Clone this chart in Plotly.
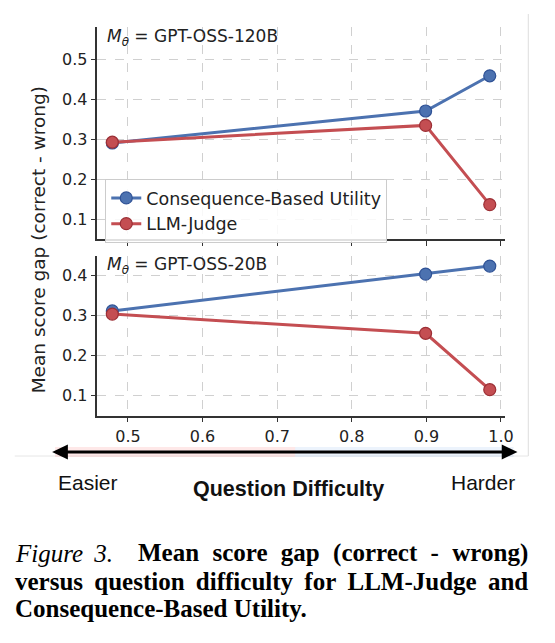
import plotly.graph_objects as go

W, H = 555, 643

# ---- data ----
difficulty = [0.479, 0.899, 0.985]
cbu_120b = [0.290, 0.370, 0.458]
judge_120b = [0.292, 0.334, 0.136]
cbu_20b = [0.312, 0.404, 0.424]
judge_20b = [0.304, 0.256, 0.115]
series_names = ["Consequence-Based Utility", "LLM-Judge"]
panel_labels = ["<i>M</i><sub><i>θ</i></sub> = GPT-OSS-120B", "<i>M</i><sub><i>θ</i></sub> = GPT-OSS-20B"]
x_ticks = [0.5, 0.6, 0.7, 0.8, 0.9, 1.0]
y_ticks_top = [0.1, 0.2, 0.3, 0.4, 0.5]
y_ticks_bot = [0.1, 0.2, 0.3, 0.4]

BLUE = "#4C72B0"
BLUE_EDGE = "#2f5296"
RED = "#C44E52"
RED_EDGE = "#9c2f35"
TICKF = dict(family="DejaVu Sans", size=16, color="#222")
TS = "&#8201;"  # thin space for justification
HS = "&#8202;"  # hair space

def px(x):
    return x / W

def py(y):
    return 1 - y / H

fig = go.Figure()

def add_series(y, name, color, edge, xa, ya, show):
    fig.add_trace(go.Scatter(
        x=difficulty, y=y, name=name, mode="lines+markers",
        line=dict(color=color, width=3),
        marker=dict(size=12, color=color, line=dict(color=edge, width=1.2)),
        xaxis=xa, yaxis=ya, showlegend=show))

add_series(cbu_120b, series_names[0], BLUE, BLUE_EDGE, "x", "y", True)
add_series(judge_120b, series_names[1], RED, RED_EDGE, "x", "y", True)
add_series(cbu_20b, series_names[0], BLUE, BLUE_EDGE, "x2", "y2", False)
add_series(judge_20b, series_names[1], RED, RED_EDGE, "x2", "y2", False)

xdom = [px(99), px(513)]
axis_common = dict(
    showline=True, linecolor="#333", linewidth=1.5,
    ticks="outside", ticklen=5, tickwidth=1.3, tickcolor="#333",
    showgrid=True, gridcolor="#d0d0d0", griddash="dash", gridwidth=1,
    zeroline=False, tickfont=TICKF,
)
fig.update_layout(
    width=W, height=H,
    margin=dict(l=0, r=0, t=0, b=0),
    paper_bgcolor="white", plot_bgcolor="white",
    showlegend=True,
    xaxis=dict(domain=xdom, range=[0.459, 1.005], tickvals=x_ticks,
               showticklabels=False, anchor="y", **axis_common),
    yaxis=dict(domain=[py(239), py(27)], range=[0.05, 0.58], tickvals=y_ticks_top,
               tickformat=".1f", anchor="x", **axis_common),
    xaxis2=dict(domain=xdom, range=[0.459, 1.005], tickvals=x_ticks,
                tickformat=".1f", anchor="y2", **axis_common),
    yaxis2=dict(domain=[py(415.7), py(255.7)], range=[0.05, 0.45], tickvals=y_ticks_bot,
                tickformat=".1f", anchor="x2", **axis_common),
    legend=dict(x=px(107), y=py(179), xanchor="left", yanchor="top",
                bgcolor="rgba(255,255,255,0.85)", bordercolor="#cccccc", borderwidth=1,
                font=dict(family="DejaVu Sans", size=17.5, color="#222"),
                tracegroupgap=2, itemwidth=30),
)

cap_font = dict(family="Liberation Serif", size=25, color="#000")
line1_main = (TS + HS + " ").join("Mean score gap (correct - wrong)".split(" "))
line2 = (TS + " ").join("versus question difficulty for LLM-Judge and".split(" "))

annotations = [
    dict(x=px(107), y=py(38), xref="paper", yref="paper", xanchor="left", yanchor="middle",
         text=panel_labels[0], showarrow=False, font=dict(family="DejaVu Sans", size=17, color="#222")),
    dict(x=px(107), y=py(266), xref="paper", yref="paper", xanchor="left", yanchor="middle",
         text=panel_labels[1], showarrow=False, font=dict(family="DejaVu Sans", size=17, color="#222")),
    dict(x=px(40), y=py(240), xref="paper", yref="paper", xanchor="center", yanchor="middle",
         text="Mean score gap (correct - wrong)", textangle=-90, showarrow=False,
         font=dict(family="DejaVu Sans", size=18.5, color="#222")),
    dict(x=px(57), y=py(482), xref="paper", yref="paper", xanchor="left", yanchor="middle",
         text="Easier", showarrow=False, font=dict(family="Liberation Sans", size=21, color="#111")),
    dict(x=px(526), y=py(482), xref="paper", yref="paper", xanchor="right", yanchor="middle",
         text="Harder", showarrow=False, font=dict(family="Liberation Sans", size=21, color="#111")),
    dict(x=px(293), y=py(489), xref="paper", yref="paper", xanchor="center", yanchor="middle",
         text="<b>Question Difficulty</b>", showarrow=False,
         font=dict(family="Liberation Sans", size=21.5, color="#111")),
    dict(x=px(13), y=py(553), xref="paper", yref="paper", xanchor="left", yanchor="middle",
         text="<i>Figure" + TS + " 3.</i>", showarrow=False, font=cap_font),
    dict(x=px(539), y=py(553), xref="paper", yref="paper", xanchor="right", yanchor="middle",
         text="<b>" + line1_main + "</b>", showarrow=False, font=cap_font),
    dict(x=px(13), y=py(581), xref="paper", yref="paper", xanchor="left", yanchor="middle",
         text="<b>" + line2 + "</b>", showarrow=False, font=cap_font),
    dict(x=px(13), y=py(608), xref="paper", yref="paper", xanchor="left", yanchor="middle",
         text="<b>Consequence-Based Utility.</b>", showarrow=False, font=cap_font),
]
fig.update_layout(annotations=annotations)

ay = 452
shapes = [
    # faint frame lines
    dict(type="line", xref="paper", yref="paper", x0=px(537), x1=px(537), y0=py(14), y1=py(456),
         line=dict(color="#dddddd", width=1)),
    dict(type="line", xref="paper", yref="paper", x0=px(15), x1=px(537), y0=py(456), y1=py(456),
         line=dict(color="#e6e6e6", width=1)),
    # glows
    dict(type="line", xref="paper", yref="paper", x0=px(56), x1=px(300), y0=py(ay), y1=py(ay),
         line=dict(color="rgba(250,110,110,0.16)", width=10)),
    dict(type="line", xref="paper", yref="paper", x0=px(300), x1=px(522), y0=py(ay), y1=py(ay),
         line=dict(color="rgba(120,170,235,0.14)", width=10)),
    # arrow shaft
    dict(type="line", xref="paper", yref="paper", x0=px(62), x1=px(516), y0=py(ay), y1=py(ay),
         line=dict(color="black", width=3)),
    # arrow heads
    dict(type="path", xref="paper", yref="paper",
         path=f"M {px(53)} {py(ay)} L {px(69)} {py(ay-7.5)} L {px(69)} {py(ay+7.5)} Z",
         fillcolor="black", line=dict(color="black", width=0)),
    dict(type="path", xref="paper", yref="paper",
         path=f"M {px(526)} {py(ay)} L {px(510)} {py(ay-7.5)} L {px(510)} {py(ay+7.5)} Z",
         fillcolor="black", line=dict(color="black", width=0)),
]
fig.update_layout(shapes=shapes)

fig.write_html("out.html")
